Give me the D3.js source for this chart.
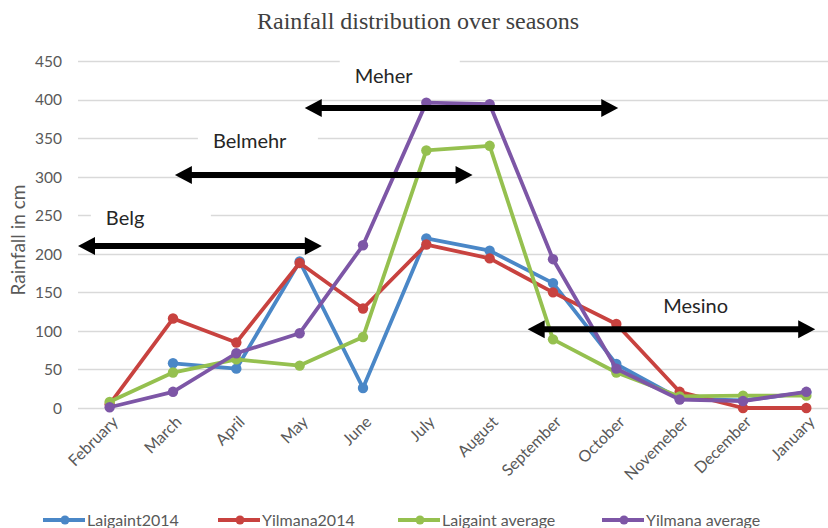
<!DOCTYPE html>
<html>
<head>
<meta charset="utf-8">
<script src="https://cdn.jsdelivr.net/npm/d3@7"></script>
<style>
  body { margin: 0; background: #fff; }
  svg { display: block; }
  .tick-label { font-family: Lato, sans-serif; fill: #595959; }
</style>
</head>
<body>
<svg width="828" height="528"></svg>
<script>
// months as written on the chart (spelling kept)
let months = ["February", "March", "April", "May", "June", "July", "August",
  "September", "October", "Novemeber", "December", "January"];

let yTicks = [0, 50, 100, 150, 200, 250, 300, 350, 400, 450];

let laigaint2014 = [null, 58, 51, 190, 26, 220, 204, 162, 57, 12, 10, 20];
let yilmana2014 = [5, 116, 85, 188, 129, 212, 194, 150, 109, 21, 0, 0];
let laigaintAvg = [8, 46, 63, 55, 92, 334, 340, 89, 46, 15, 16, 16];
let yilmanaAvg = [1, 21, 71, 97, 211, 396, 394, 193, 51, 11, 9, 21];

let seriesNames = ["Laigaint2014", "Yilmana2014", "Laigaint average", "Yilmana average"];
let seriesColors = ["#4a87c7", "#c8423f", "#95c04f", "#7d56a6"];

// season arrows: from / to in month index, level in cm; label anchor in index / cm
let seasons = [
  {name: "Belg",    from: -0.5, to: 3.35, level: 210, lx: -0.06, ly: 246, box: true},
  {name: "Belmehr", from: 1.03, to: 5.73, level: 302, lx: 1.63,  ly: 346, box: true},
  {name: "Meher",   from: 3.08, to: 8.03, level: 389, lx: 3.87,  ly: 430, box: true},
  {name: "Mesino",  from: 6.6,  to: 11.14, level: 102, lx: 8.74, ly: 132, box: false}
];

let svg = d3.select("svg"),
    width = +svg.attr("width"),
    height = +svg.attr("height");

let x = d3.scalePoint()
    .domain(months)
    .range([78, 838])
    .padding(0.5);

let xi = function(i) { return x(months[0]) + i * x.step(); };

let y = d3.scaleLinear()
    .domain([0, 450])
    .range([408, 61]);

// title
svg.append("text")
    .attr("x", 418)
    .attr("y", 29)
    .attr("text-anchor", "middle")
    .style("font-family", "'Liberation Serif', 'Times New Roman', serif")
    .style("font-size", "24px")
    .style("fill", "#404040")
    .text("Rainfall distribution over seasons");

// gridlines
svg.append("g")
  .selectAll("line")
  .data(yTicks)
  .enter().append("line")
    .attr("x1", 78)
    .attr("x2", width)
    .attr("y1", function(d) { return Math.round(y(d)) + 0.5; })
    .attr("y2", function(d) { return Math.round(y(d)) + 0.5; })
    .attr("stroke", "#d9d9d9")
    .attr("stroke-width", 1.3);

// y axis
let yAxis = d3.axisLeft(y).tickValues(yTicks).tickSize(0).tickPadding(0);
let gy = svg.append("g")
    .attr("transform", "translate(62,0)")
    .call(yAxis);
gy.select(".domain").remove();
gy.selectAll("text")
    .attr("class", "tick-label")
    .attr("dy", "0.35em")
    .style("font-size", "15.5px");

svg.append("text")
    .attr("transform", "translate(25,240) rotate(-90)")
    .attr("text-anchor", "middle")
    .style("font-family", "Lato, sans-serif")
    .style("font-size", "19px")
    .style("fill", "#595959")
    .text("Rainfall in cm");

// x axis labels, rotated
let xAxis = d3.axisBottom(x).tickSize(0).tickPadding(0);
let gx = svg.append("g")
    .attr("transform", "translate(0,417)")
    .call(xAxis);
gx.select(".domain").remove();
gx.selectAll("text")
    .attr("class", "tick-label")
    .style("font-size", "16px")
    .attr("text-anchor", "end")
    .attr("dy", "0.35em")
    .attr("transform", "translate(5,2) rotate(-45)");

// season annotations
let labels = svg.append("g");
seasons.forEach(function(s) {
  let lx = xi(s.lx), ly = y(s.ly);
  if (s.box) {
    labels.append("rect")
        .attr("x", lx - 15)
        .attr("y", ly - 18)
        .attr("width", 120)
        .attr("height", 34)
        .attr("fill", "#fff");
  }
  labels.append("text")
      .attr("x", lx)
      .attr("y", ly)
      .attr("dy", "0.35em")
      .style("font-family", "Lato, sans-serif")
      .style("font-size", "20px")
      .style("fill", "#262626")
      .text(s.name);
});

// lines
let allSeries = [laigaint2014, yilmana2014, laigaintAvg, yilmanaAvg];
let line = d3.line()
    .defined(function(d) { return d != null; })
    .x(function(d, i) { return x(months[i]); })
    .y(function(d) { return y(d); });

allSeries.forEach(function(vals, k) {
  let g = svg.append("g").attr("class", "series");
  g.append("path")
      .datum(vals)
      .attr("fill", "none")
      .attr("stroke", seriesColors[k])
      .attr("stroke-width", 3.8)
      .attr("stroke-linejoin", "round")
      .attr("d", line);
  g.selectAll("circle")
    .data(vals.map(function(v, i) { return {v: v, m: months[i]}; })
              .filter(function(d) { return d.v != null; }))
    .enter().append("circle")
      .attr("cx", function(d) { return x(d.m); })
      .attr("cy", function(d) { return y(d.v); })
      .attr("r", 5.2)
      .attr("fill", seriesColors[k]);
});

// arrows on top
let arrows = svg.append("g");
seasons.forEach(function(s) {
  let x1 = xi(s.from), x2 = xi(s.to), yy = y(s.level);
  let head = 17, half = 9;
  arrows.append("line")
      .attr("x1", x1 + head - 2).attr("x2", x2 - head + 2)
      .attr("y1", yy).attr("y2", yy)
      .attr("stroke", "#000")
      .attr("stroke-width", 6);
  arrows.append("path")
      .attr("d", "M" + x1 + "," + yy + "L" + (x1 + head) + "," + (yy - half) + "L" + (x1 + head) + "," + (yy + half) + "Z")
      .attr("fill", "#000");
  arrows.append("path")
      .attr("d", "M" + x2 + "," + yy + "L" + (x2 - head) + "," + (yy - half) + "L" + (x2 - head) + "," + (yy + half) + "Z")
      .attr("fill", "#000");
});

// legend
let legendX = [43, 218, 398, 602];
let legend = svg.append("g").attr("transform", "translate(0,520)");
seriesNames.forEach(function(name, k) {
  let lg = legend.append("g").attr("transform", "translate(" + legendX[k] + ",0)");
  lg.append("line")
      .attr("x1", 0).attr("x2", 42)
      .attr("stroke", seriesColors[k])
      .attr("stroke-width", 4);
  lg.append("circle")
      .attr("cx", 22).attr("r", 4.5)
      .attr("fill", seriesColors[k]);
  lg.append("text")
      .attr("x", 44)
      .attr("dy", "0.35em")
      .style("font-family", "Lato, sans-serif")
      .style("font-size", "16px")
      .style("fill", "#595959")
      .text(name);
});
</script>
</body>
</html>
